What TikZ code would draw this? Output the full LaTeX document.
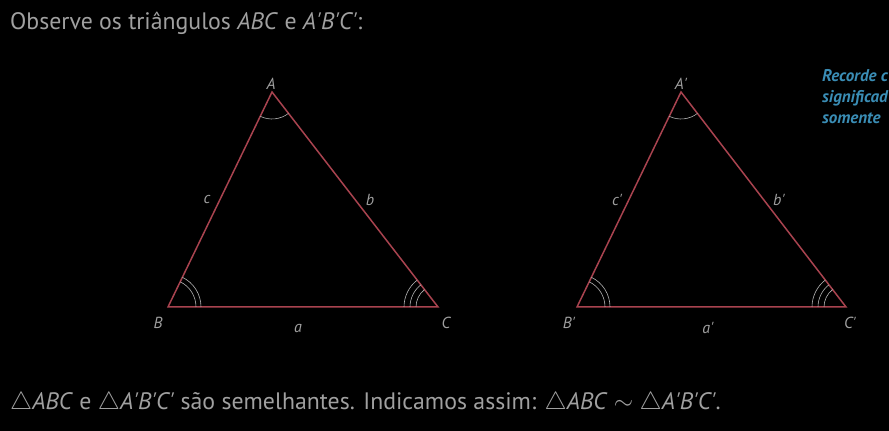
\documentclass[tikz,border=0pt]{standalone}
\usepackage{fontspec}
\setmainfont{PT Sans}
\usepackage{tikz}
\usetikzlibrary{angles}
\definecolor{bggray}{HTML}{000000}
\definecolor{txtgray}{HTML}{A0A0A0}
\definecolor{arcgray}{HTML}{B4B4B4}
\definecolor{trired}{HTML}{A8434F}
\definecolor{noteblue}{HTML}{3A8DB5}
\newcommand{\pr}{\textquotesingle}

\begin{document}
\begin{tikzpicture}[x=1pt,y=1pt,
  tri/.style={draw=trired,line width=1.5pt,line join=miter},
  vlabel/.style={font=\fontsize{16}{18}\selectfont\itshape,text=txtgray,inner sep=0pt},
  anglemark/.style={draw=arcgray,line width=0.6pt},
  maintext/.style={font=\fontsize{23.8}{26}\selectfont,text=txtgray,anchor=base west,inner sep=0pt},
  note/.style={font=\fontsize{17}{19}\selectfont\bfseries\itshape,text=noteblue,anchor=base west,inner sep=0pt}
]
% background and frame
\fill[bggray] (0,0) rectangle (889,431);
\useasboundingbox (0,0) rectangle (889,431);
\clip (0,0) rectangle (889,431);

% heading
\node[maintext] (head) at (10,401) {Observe os triângulos \textit{ABC} e \textit{A\pr B\pr C\pr}:};

% side note (cut at the right edge)
\node[note] (note1) at (822,349) {Recorde c};
\node[note] (note2) at (822,328) {significad};
\node[note] (note3) at (822,307) {somente};

% triangle ABC
\coordinate (A) at (272,339);
\coordinate (B) at (168,124);
\coordinate (C) at (438,124);
\draw[tri] (A) -- (B) -- (C) -- cycle;

\pic[anglemark,angle radius=27] {angle=B--A--C};
\foreach \r in {28,33}
  \pic[anglemark,angle radius=\r] {angle=C--B--A};
\foreach \r in {22,28,34}
  \pic[anglemark,angle radius=\r] {angle=A--C--B};

\node[vlabel] (lA) at (271,347) {A};
\node[vlabel] (lB) at (158,108) {B};
\node[vlabel] (lC) at (446,108) {C};
\node[vlabel] (la) at (298,103) {a};
\node[vlabel] (lb) at (370,231) {b};
\node[vlabel] (lc) at (207,231) {c};

% triangle A'B'C'
\coordinate (A2) at (681,339);
\coordinate (B2) at (577,124);
\coordinate (C2) at (846,124);
\draw[tri] (A2) -- (B2) -- (C2) -- cycle;

\pic[anglemark,angle radius=27] {angle=B2--A2--C2};
\foreach \r in {28,33}
  \pic[anglemark,angle radius=\r] {angle=C2--B2--A2};
\foreach \r in {22,28,34}
  \pic[anglemark,angle radius=\r] {angle=A2--C2--B2};

\node[vlabel] (lA2) at (681,347) {A\pr};
\node[vlabel] (lB2) at (569,108) {B\pr};
\node[vlabel] (lC2) at (850,108) {C\pr};
\node[vlabel] (la2) at (708,103) {a\pr};
\node[vlabel] (lb2) at (779,231) {b\pr};
\node[vlabel] (lc2) at (617,231) {c\pr};

% conclusion
\node[maintext] (concl) at (10,21) {$\triangle$\textit{ABC} e $\triangle$\textit{A\pr B\pr C\pr} são semelhantes. Indicamos assim: $\triangle$\textit{ABC} $\sim$ $\triangle$\textit{A\pr B\pr C\pr}.};

\end{tikzpicture}
\end{document}
